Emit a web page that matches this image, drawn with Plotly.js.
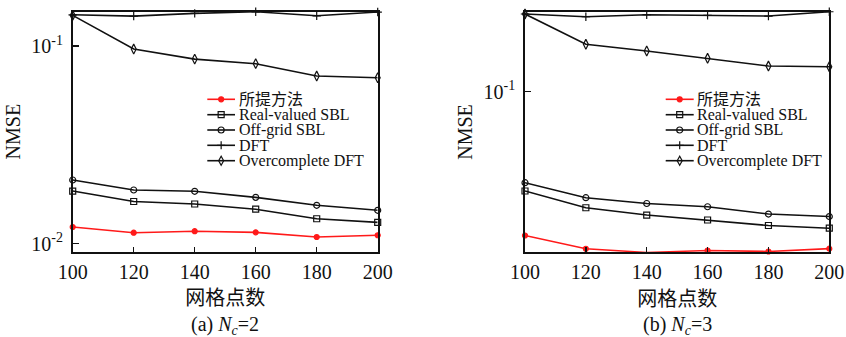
<!DOCTYPE html>
<html><head><meta charset="utf-8">
<script src="https://cdn.plot.ly/plotly-3.0.1.min.js"></script>
<style>html,body{margin:0;padding:0;background:#fff}</style>
</head><body><div id="chart" style="width:846px;height:337px"></div>
<script>
// ---------------- data ----------------
const gridPoints = [100, 120, 140, 160, 180, 200];
const seriesNames = ['所提方法', 'Real-valued SBL', 'Off-grid SBL', 'DFT', 'Overcomplete DFT'];
// (a) Nc = 2
const proposedA = [0.01212, 0.01134, 0.01154, 0.01139, 0.01079, 0.01101];
const realSblA  = [0.01844, 0.01632, 0.01585, 0.01492, 0.01335, 0.01280];
const offGridA  = [0.02097, 0.01866, 0.01838, 0.01713, 0.01561, 0.01473];
const dftA      = [0.1440, 0.1418, 0.1464, 0.1491, 0.1423, 0.1487];
const overDftA  = [0.1430, 0.0966, 0.0859, 0.0814, 0.0705, 0.0691];
// (b) Nc = 3
const proposedB = [0.01870, 0.01602, 0.01535, 0.01570, 0.01552, 0.01604];
const realSblB  = [0.03142, 0.02584, 0.02374, 0.02241, 0.02101, 0.02036];
const offGridB  = [0.03461, 0.02906, 0.02716, 0.02614, 0.02402, 0.02333];
const dftB      = [0.2474, 0.2397, 0.2454, 0.2436, 0.2416, 0.2540];
const overDftB  = [0.2474, 0.1738, 0.1607, 0.1476, 0.1349, 0.1338];
// ticks / labels
const xTickVals = [100, 120, 140, 160, 180, 200];
const yTickVals = [0.01, 0.1];
const yTickText = ['10<sup>-2</sup>', '10<sup>-1</sup>'];
const xTitle = '网格点数';
const yTitle = 'NMSE';
const captions = ['(a) <i>N<sub>c</sub></i>=2', '(b) <i>N<sub>c</sub></i>=3'];

// ---------------- styling ----------------
const W = 846, H = 337;
const px = v => v / W, py = v => 1 - v / H;
const SERIF = 'Liberation Serif, Times New Roman, Noto Sans CJK SC, serif';
const styles = [
  {color: '#ff1a1a', symbol: 'circle', size: 5},
  {color: '#111', symbol: 'square-open', size: 6},
  {color: '#111', symbol: 'circle-open', size: 6},
  {color: '#111', symbol: 'cross-thin-open', size: 6},
  {color: '#111', symbol: 'diamond-tall-open', size: 7}
];
const panels = [
  {series: [proposedA, realSblA, offGridA, dftA, overDftA], xa: 'x', ya: 'y'},
  {series: [proposedB, realSblB, offGridB, dftB, overDftB], xa: 'x2', ya: 'y2'}
];

const traces = [];
panels.forEach(p => {
  // draw black series first, red on top
  [3, 4, 2, 1, 0].forEach(i => {
    const s = styles[i];
    traces.push({
      x: gridPoints, y: p.series[i], xaxis: p.xa, yaxis: p.ya,
      type: 'scatter', mode: 'lines+markers', name: seriesNames[i], showlegend: false,
      cliponaxis: false,
      line: {color: s.color, width: 1.6},
      marker: {symbol: s.symbol, size: s.size, color: s.color, line: {color: s.color, width: 1.2}}
    });
  });
});

function xAxis(domain, anchor) {
  return {
    domain, anchor, range: [100, 200], tickvals: xTickVals, ticks: 'inside', ticklen: 5,
    tickwidth: 1.4, tickcolor: '#111', showline: true, linecolor: '#111', linewidth: 1.8,
    mirror: true, showgrid: false, zeroline: false, ticklabelstandoff: 1,
    tickfont: {family: SERIF, size: 20, color: '#111'},
    title: {text: xTitle, font: {family: 'Noto Sans CJK SC', size: 20, color: '#111'}, standoff: 6}
  };
}
function yAxis(domain, anchor, range) {
  return {
    domain, anchor, type: 'log', range, tickvals: yTickVals, ticktext: yTickText,
    ticks: 'inside', ticklen: 6, tickwidth: 1.4, tickcolor: '#111', showline: true,
    linecolor: '#111', linewidth: 1.8, mirror: true, showgrid: false, zeroline: false,
    ticklabelstandoff: 4,
    tickfont: {family: SERIF, size: 20, color: '#111'},
    title: {text: yTitle, font: {family: SERIF, size: 20, color: '#111'}, standoff: 5}
  };
}

// manual compact legends (MATLAB-like tight rows)
const shapes = [], annotations = [];
const legendRowsY = [99.3, 114.7, 130, 145.3, 160.7];
const legendPos = [{x0: 207.3, x1: 235, text: 236.5}, {x0: 665.7, x1: 693.7, text: 694.5}];
legendPos.forEach(L => {
  seriesNames.forEach((name, i) => {
    const s = styles[i], yy = py(legendRowsY[i]), xm = px((L.x0 + L.x1) / 2);
    shapes.push({type: 'line', xref: 'paper', yref: 'paper', x0: px(L.x0), x1: px(L.x1), y0: yy, y1: yy,
      line: {color: s.color, width: 1.6}});
    const base = {xref: 'paper', yref: 'paper', xsizemode: 'pixel', ysizemode: 'pixel', xanchor: xm, yanchor: yy,
      line: {color: s.color, width: 1.2}};
    if (i === 0) shapes.push(Object.assign({}, base, {type: 'circle', x0: -2.5, x1: 2.5, y0: -2.5, y1: 2.5, fillcolor: s.color}));
    if (i === 1) shapes.push(Object.assign({}, base, {type: 'rect', x0: -3, x1: 3, y0: -3, y1: 3}));
    if (i === 2) shapes.push(Object.assign({}, base, {type: 'circle', x0: -3, x1: 3, y0: -3, y1: 3}));
    if (i === 3) shapes.push(Object.assign({}, base, {type: 'path', path: 'M-4,0H4M0,-4V4'}));
    if (i === 4) shapes.push(Object.assign({}, base, {type: 'path', path: 'M0,-4.5L2.5,0L0,4.5L-2.5,0Z'}));
    annotations.push({xref: 'paper', yref: 'paper', x: px(L.text), y: yy, xanchor: 'left', yanchor: 'middle',
      text: name, showarrow: false, font: {family: SERIF, size: 16, color: '#111'}});
  });
});
// captions
[225, 677].forEach((cx, i) => {
  annotations.push({xref: 'paper', yref: 'paper', x: px(cx), y: py(325), xanchor: 'center', yanchor: 'middle',
    text: captions[i], showarrow: false, font: {family: SERIF, size: 20, color: '#111'}});
});

const layout = {
  width: W, height: H, margin: {l: 0, r: 0, t: 0, b: 0},
  paper_bgcolor: '#fff', plot_bgcolor: '#fff', showlegend: false,
  font: {family: SERIF, color: '#111'},
  xaxis: xAxis([px(72.7), px(377.7)], 'y'),
  yaxis: yAxis([py(251.7), py(11.5)], 'x', [-2.0415, -0.825]),
  xaxis2: xAxis([px(525), px(829.3)], 'y2'),
  yaxis2: yAxis([py(252.3), py(11.7)], 'x2', [-1.8132, -0.595]),
  shapes, annotations
};
Plotly.newPlot('chart', traces, layout, {staticPlot: true, displayModeBar: false});
</script></body></html>
